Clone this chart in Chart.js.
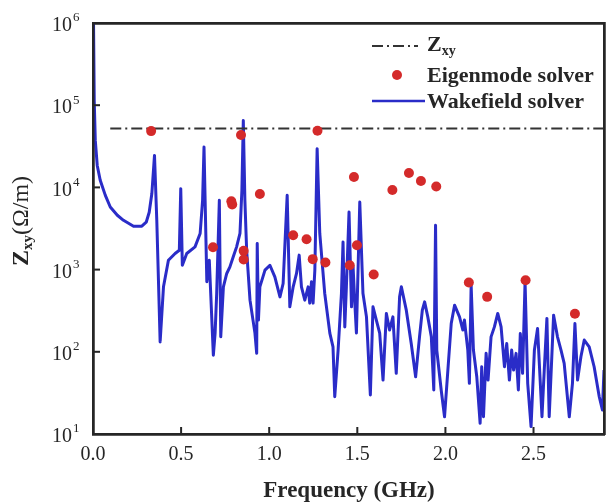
<!DOCTYPE html>
<html>
<head>
<meta charset="utf-8">
<script src="https://cdn.jsdelivr.net/npm/chart.js@4.4.1/dist/chart.umd.min.js"></script>
<style>
html, body { margin: 0; padding: 0; background: #fff; overflow: hidden; }
#wrap { position: absolute; left: 0; top: 0; width: 606px; height: 503px; overflow: hidden; }
canvas { display: block; }
</style>
</head>
<body>
<div id="wrap"><canvas id="myChart"></canvas></div>
<script>
// Wakefield solver spectrum (GHz, Ohm/m)
const wakeFreq = [
    0.003, 0.007, 0.013, 0.024, 0.041, 0.070, 0.098, 0.138, 0.173, 0.230,
    0.277, 0.302, 0.319, 0.334, 0.349, 0.362, 0.373, 0.381, 0.400, 0.428,
    0.466, 0.490, 0.498, 0.507, 0.532, 0.579, 0.608, 0.622, 0.630, 0.646,
    0.660, 0.683, 0.693, 0.702, 0.717, 0.725, 0.740, 0.759, 0.777, 0.796,
    0.815, 0.834, 0.845, 0.853, 0.862, 0.872, 0.891, 0.908, 0.919, 0.929,
    0.932, 0.939, 0.947, 0.976, 1.004, 1.032, 1.061, 1.079, 1.102, 1.117,
    1.136, 1.155, 1.170, 1.183, 1.202, 1.221, 1.230, 1.240, 1.249, 1.259,
    1.272, 1.287, 1.315, 1.344, 1.362, 1.372, 1.391, 1.410, 1.419, 1.429,
    1.438, 1.453, 1.467, 1.476, 1.485, 1.495, 1.514, 1.532, 1.552, 1.574,
    1.589, 1.608, 1.627, 1.646, 1.665, 1.683, 1.702, 1.721, 1.740, 1.750,
    1.778, 1.806, 1.831, 1.853, 1.869, 1.882, 1.900, 1.920, 1.934, 1.944,
    1.951, 1.976, 1.995, 2.014, 2.033, 2.052, 2.080, 2.099, 2.108, 2.127,
    2.136, 2.146, 2.159, 2.178, 2.197, 2.206, 2.216, 2.231, 2.242, 2.259,
    2.278, 2.297, 2.316, 2.335, 2.348, 2.363, 2.376, 2.387, 2.401, 2.414,
    2.425, 2.438, 2.452, 2.467, 2.486, 2.505, 2.523, 2.548, 2.561, 2.576,
    2.589, 2.614, 2.636, 2.656, 2.674, 2.703, 2.721, 2.735, 2.750, 2.769,
    2.788, 2.816, 2.844, 2.873, 2.891, 2.900
];
const wakeZ = [
    1.0e6, 1.14e5, 37300, 18500, 12200, 8000, 5780, 4580, 3980, 3370,
    3370, 3770, 4980, 8410, 24500, 3980, 562, 132, 617, 1300,
    1570, 1720, 9660, 1130, 1570, 1890, 2750, 6970, 31000, 710,
    1300, 91, 169, 516, 6970, 152, 617, 897, 1080, 1430,
    1890, 2750, 9230, 65300, 6970, 1720, 425, 243, 169, 96,
    2080, 243, 617, 984, 1130, 815, 466, 678, 8020, 352,
    617, 897, 1500, 617, 425, 617, 391, 710, 391, 984,
    29600, 2750, 516, 169, 115, 28.4, 105, 516, 2170, 201,
    617, 5030, 352, 1080, 425, 169, 6650, 516, 266, 29.8,
    352, 243, 169, 45.3, 293, 184, 266, 54.7, 466, 617,
    321, 126, 49.7, 152, 321, 405, 266, 152, 34.3, 3460,
    105, 34.3, 16.2, 60, 221, 369, 266, 184, 243, 105,
    41.3, 646, 105, 49.7, 13.5, 65.8, 16.2, 95.7, 45.3, 152,
    201, 293, 201, 65.8, 126, 45.3, 105, 60, 95.7, 34.3,
    167, 54.7, 710, 41.3, 12.3, 105, 192, 16.2, 60, 255,
    16.2, 279, 152, 105, 72.3, 16.2, 41.3, 221, 45.3, 86.9,
    139, 115, 65.8, 28.4, 19.6, 60
];

// Eigenmode solver modes
const eigenFreq = [
    0.330, 0.681, 0.785, 0.790, 0.840, 0.855, 0.855, 0.947, 1.136, 1.212,
    1.247, 1.274, 1.319, 1.457, 1.481, 1.498, 1.593, 1.699, 1.793, 1.861,
    1.948, 2.133, 2.237, 2.455, 2.735
];
const eigenZ = [
    48400, 1870, 6800, 6200, 43400, 1690, 1330, 8320, 2620, 2340,
    1340, 49000, 1220, 1130, 13400, 1980, 870, 9300, 14960, 11970,
    10240, 697, 466, 743, 290
];

// Z_xy threshold
const zxyFreq = [0.098, 2.9];
const zxyZ = [52000, 52000];

const xTicks = [0, 0.5, 1.0, 1.5, 2.0, 2.5];
const xTickLabels = ['0.0', '0.5', '1.0', '1.5', '2.0', '2.5'];
const yTicks = [10, 100, 1000, 10000, 100000, 1000000];
const yTickExp = ['1', '2', '3', '4', '5', '6'];

const SERIF = '"Liberation Serif", "DejaVu Serif", serif';
const INK = '#262626';
const BLUE = 'rgb(42, 44, 200)';
const RED = '#d42a2a';

function pts(xs, ys) {
    return xs.map((x, i) => ({ x: x, y: ys[i] }));
}

// bare axis that only draws its border line (used for the box)
function edgeAxis(type, position, min, max) {
    const horiz = position === 'top' || position === 'bottom';
    return {
        type: type,
        position: position,
        min: min,
        max: max,
        ticks: { display: false },
        grid: { display: false, drawTicks: false },
        border: { display: true, color: INK, width: 2.5 },
        afterFit: s => { if (horiz) s.height = 0; else s.width = 0; }
    };
}

const decorations = {
    id: 'decorations',
    afterDraw(chart) {
        const ctx = chart.ctx;
        const a = chart.chartArea;
        const xs = chart.scales.x;
        const ys = chart.scales.y;
        const bw = 2.5;
        ctx.save();
        ctx.setLineDash([]);

        // frame
        ctx.fillStyle = INK;
        ctx.fillRect(a.left - 1, a.top - 1, a.right - a.left + 2, bw);
        ctx.fillRect(a.left - 1, a.bottom - 1, a.right - a.left + 2, bw);
        ctx.fillRect(a.left - 1, a.top - 1, bw, a.bottom - a.top + 2);
        ctx.fillRect(a.right - 1, a.top - 1, bw, a.bottom - a.top + 2);

        // inward ticks
        xTicks.forEach(v => {
            const px = xs.getPixelForValue(v);
            ctx.fillRect(px - 1, a.bottom - 7, 2, 7);
        });
        yTicks.forEach(v => {
            const py = ys.getPixelForValue(v);
            ctx.fillRect(a.left, py - 1, 7, 2);
        });

        // x tick labels
        ctx.font = '20px ' + SERIF;
        ctx.textAlign = 'center';
        ctx.textBaseline = 'middle';
        xTicks.forEach((v, i) => {
            ctx.fillText(xTickLabels[i], xs.getPixelForValue(v), a.bottom + 21);
        });

        // y tick labels 10^n
        yTicks.forEach((v, i) => {
            const py = ys.getPixelForValue(v);
            ctx.font = '20px ' + SERIF;
            ctx.textAlign = 'right';
            ctx.fillText('10', a.left - 21, py + 3);
            ctx.font = '13px ' + SERIF;
            ctx.textAlign = 'left';
            ctx.fillText(yTickExp[i], a.left - 20, py - 5);
        });

        // x title
        ctx.font = 'bold 23px ' + SERIF;
        ctx.textAlign = 'center';
        ctx.fillText('Frequency (GHz)', 349, 491);

        // y title, rotated
        ctx.save();
        ctx.translate(22, 221);
        ctx.rotate(-Math.PI / 2);
        const parts = [
            { t: 'Z', f: 'bold 24px ' + SERIF, dy: 0 },
            { t: 'xy', f: 'bold 15px ' + SERIF, dy: 6 },
            { t: '(Ω/m)', f: '24px ' + SERIF, dy: 0 }
        ];
        let w = 0;
        parts.forEach(p => { ctx.font = p.f; w += ctx.measureText(p.t).width; });
        let cx = -w / 2;
        ctx.textAlign = 'left';
        parts.forEach(p => {
            ctx.font = p.f;
            ctx.fillText(p.t, cx, p.dy);
            cx += ctx.measureText(p.t).width;
        });
        ctx.restore();

        // legend
        const lx0 = 372, lx1 = 421, tx = 427;
        ctx.textAlign = 'left';
        ctx.textBaseline = 'middle';

        ctx.strokeStyle = '#333';
        ctx.lineWidth = 2;
        ctx.setLineDash([11, 4, 2, 4]);
        ctx.beginPath();
        ctx.moveTo(lx0, 46);
        ctx.lineTo(lx1 - 3, 46);
        ctx.stroke();
        ctx.setLineDash([]);
        ctx.font = 'bold 22px ' + SERIF;
        ctx.fillStyle = INK;
        ctx.fillText('Z', tx, 45);
        const zw = ctx.measureText('Z').width;
        ctx.font = 'bold 14px ' + SERIF;
        ctx.fillText('xy', tx + zw, 51);

        ctx.fillStyle = RED;
        ctx.beginPath();
        ctx.arc(397, 75, 5, 0, Math.PI * 2);
        ctx.fill();
        ctx.fillStyle = INK;
        ctx.font = 'bold 22px ' + SERIF;
        ctx.fillText('Eigenmode solver', tx, 76);

        ctx.strokeStyle = BLUE;
        ctx.lineWidth = 2.5;
        ctx.beginPath();
        ctx.moveTo(lx0, 101);
        ctx.lineTo(lx1 + 4, 101);
        ctx.stroke();
        ctx.fillText('Wakefield solver', tx, 102);

        ctx.restore();
    }
};

const config = {
    type: 'scatter',
    data: {
        datasets: [
            {
                label: 'Eigenmode solver',
                data: pts(eigenFreq, eigenZ),
                xAxisID: 'x',
                yAxisID: 'y',
                backgroundColor: RED,
                borderColor: RED,
                pointRadius: 5,
                pointBorderWidth: 0,
                showLine: false,
                order: 1
            },
            {
                label: 'Zxy',
                data: pts(zxyFreq, zxyZ),
                xAxisID: 'x',
                yAxisID: 'y',
                borderColor: '#333',
                borderWidth: 2,
                borderDash: [11, 4, 2, 4],
                pointRadius: 0,
                showLine: true,
                order: 2
            },
            {
                label: 'Wakefield solver',
                data: pts(wakeFreq, wakeZ),
                xAxisID: 'x',
                yAxisID: 'y',
                borderColor: BLUE,
                borderWidth: 3,
                borderJoinStyle: 'round',
                pointRadius: 0,
                showLine: true,
                tension: 0,
                order: 3
            }
        ]
    },
    options: {
        responsive: true,
        maintainAspectRatio: false,
        animation: false,
        layout: { autoPadding: false, padding: { top: 23, right: 2, left: 0, bottom: 0 } },
        plugins: {
            legend: { display: false },
            tooltip: { enabled: false }
        },
        scales: {
            x: {
                type: 'linear',
                position: 'bottom',
                min: 0,
                max: 2.9,
                ticks: { display: false },
                grid: { display: false, drawTicks: false },
                border: { display: true, color: INK, width: 2.5 },
                afterFit: s => { s.height = 69; }
            },
            y: {
                type: 'logarithmic',
                position: 'left',
                min: 10,
                max: 1e6,
                ticks: { display: false },
                grid: { display: false, drawTicks: false },
                border: { display: true, color: INK, width: 2.5 },
                afterFit: s => { s.width = 93; }
            },
            xTop: edgeAxis('linear', 'top', 0, 2.9),
            yRight: edgeAxis('logarithmic', 'right', 10, 1e6)
        }
    },
    plugins: [decorations]
};

new Chart(document.getElementById('myChart'), config);
</script>
</body>
</html>
